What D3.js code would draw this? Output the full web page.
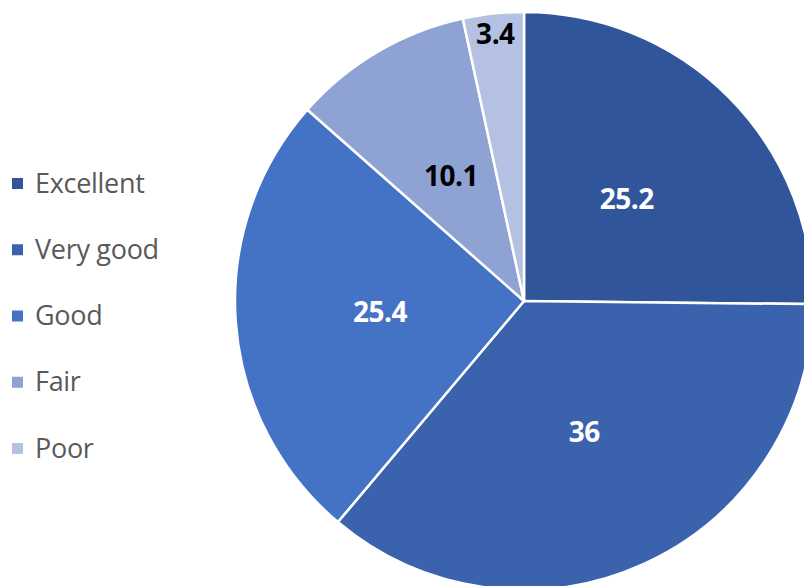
<!DOCTYPE html>
<html>
<head>
<meta charset="utf-8">
<script src="https://cdn.jsdelivr.net/npm/d3@7"></script>
<style>
  body { margin: 0; background: #fff; }
  svg { display: block; font-family: "Open Sans", Lato, sans-serif; }
</style>
</head>
<body>
<div id="chart"></div>
<script>
// data
const categories = ["Excellent", "Very good", "Good", "Fair", "Poor"];
const values = [25.2, 36, 25.4, 10.1, 3.4];
const colors = ["#30559a", "#3b63ad", "#4472c4", "#8fa2d4", "#b5c1e3"];
const labelColors = ["#fff", "#fff", "#fff", "#000", "#000"];

const width = 804, height = 586;
const cx = 524, cy = 301, radius = 289;

const svg = d3.select("#chart").append("svg")
    .attr("width", width)
    .attr("height", height);

const pie = d3.pie().sort(null).value(d => d.value);
const arcs = pie(categories.map((c, i) => ({ name: c, value: values[i], i: i })));

const arc = d3.arc().innerRadius(0).outerRadius(radius);
const labelArc = d3.arc().innerRadius(radius * 0.5).outerRadius(radius * 0.5);
const edgeArc = d3.arc().innerRadius(radius * 0.93).outerRadius(radius * 0.93);

const g = svg.append("g").attr("transform", "translate(" + cx + "," + cy + ")");

g.selectAll("path")
    .data(arcs)
    .enter().append("path")
    .attr("d", arc)
    .attr("fill", d => colors[d.data.i])
    .attr("stroke", "#fff")
    .attr("stroke-width", 2.5)
    .attr("stroke-linejoin", "round");

g.selectAll("text.lbl")
    .data(arcs)
    .enter().append("text")
    .attr("class", "lbl")
    .attr("transform", d => {
        // tiny slice: label sits near the rim
        const p = (d.endAngle - d.startAngle) < 0.3 ? edgeArc.centroid(d) : labelArc.centroid(d);
        return "translate(" + p + ")";
    })
    .attr("text-anchor", "middle")
    .attr("dy", "0.36em")
    .attr("font-size", "28px")
    .attr("font-weight", "bold")
    .attr("letter-spacing", "-0.5px")
    .attr("fill", d => labelColors[d.data.i])
    .text(d => d.data.value);

// legend
const legend = svg.append("g");
const legendY = d3.scalePoint().domain(categories).range([183, 448]);

legend.selectAll("rect")
    .data(categories)
    .enter().append("rect")
    .attr("x", 12)
    .attr("y", d => legendY(d) - 5)
    .attr("width", 11)
    .attr("height", 11)
    .attr("fill", (d, i) => colors[i]);

legend.selectAll("text")
    .data(categories)
    .enter().append("text")
    .attr("x", 35)
    .attr("y", d => legendY(d))
    .attr("dy", "0.36em")
    .attr("font-size", "27px")
    .attr("letter-spacing", "-0.3px")
    .attr("fill", "#595959")
    .text(d => d);
</script>
</body>
</html>
